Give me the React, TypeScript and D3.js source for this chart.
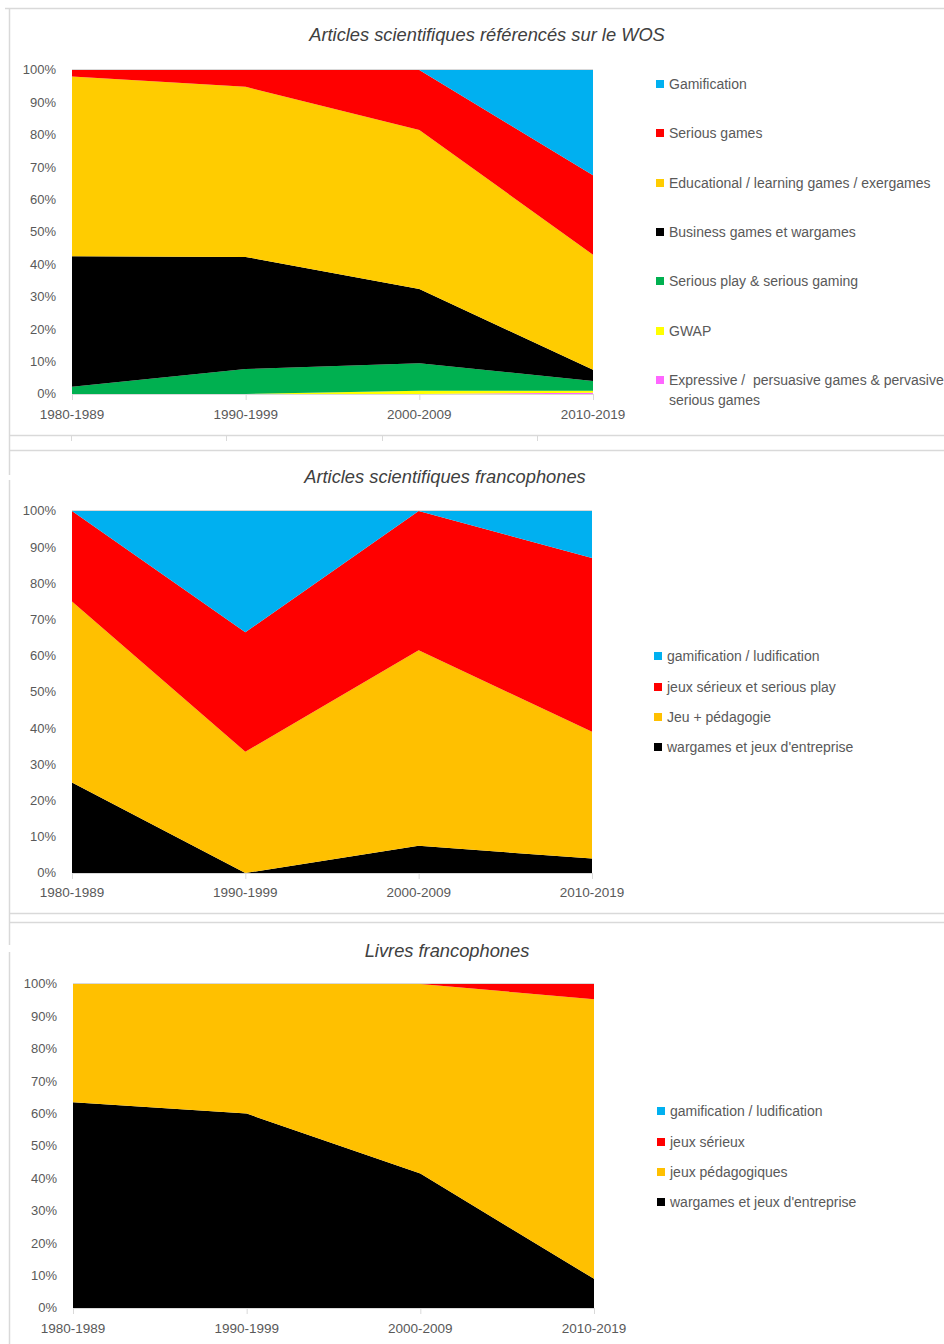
import React from 'react';
import * as d3 from 'd3';

// ---------- shared data ----------
const periods = ['1980-1989', '1990-1999', '2000-2009', '2010-2019'];
const yTickValues = [0, 10, 20, 30, 40, 50, 60, 70, 80, 90, 100];

// ---------- Chart 1 : WOS (values in %, stacked bottom -> top) ----------
const wosTitle = 'Articles scientifiques référencés sur le WOS';
const wosNames = [
  'Expressive /\u00A0 persuasive games & pervasive\nserious games',
  'GWAP',
  'Serious play & serious gaming',
  'Business games et wargames',
  'Educational / learning games / exergames',
  'Serious games',
  'Gamification',
];
const wosColors = ['#FF66FF', '#FFFF00', '#00B050', '#000000', '#FFCC00', '#FF0000', '#00B0F0'];
const wosExpressive = [0, 0, 0, 0.4];
const wosGwap = [0, 0, 1.0, 0.6];
const wosSeriousPlay = [2.2, 7.7, 8.5, 3.0];
const wosBusiness = [40.3, 34.6, 22.9, 3.5];
const wosEducational = [55.5, 52.5, 49.1, 35.5];
const wosSeriousGames = [2.0, 5.2, 18.5, 24.5];
const wosGamification = [0, 0, 0, 32.5];

// ---------- Chart 2 : articles francophones ----------
const artTitle = 'Articles scientifiques francophones';
const artNames = ["wargames et jeux d'entreprise", 'Jeu + pédagogie', 'jeux sérieux et serious play', 'gamification / ludification'];
const artColors = ['#000000', '#FFC000', '#FF0000', '#00B0F0'];
const artWargames = [25, 0, 7.5, 4];
const artPedagogie = [50, 33.5, 54, 35];
const artSerieux = [25, 33, 38.5, 48];
const artGamification = [0, 33.5, 0, 13];

// ---------- Chart 3 : livres francophones ----------
const livTitle = 'Livres francophones';
const livNames = ["wargames et jeux d'entreprise", 'jeux pédagogiques', 'jeux sérieux', 'gamification / ludification'];
const livColors = ['#000000', '#FFC000', '#FF0000', '#00B0F0'];
const livWargames = [63.5, 60, 41.5, 9];
const livPedagogiques = [36.5, 40, 58.5, 86.3];
const livSerieux = [0, 0, 0, 4.7];
const livGamification = [0, 0, 0, 0];

const FONT = '"Liberation Sans", Arial, sans-serif';
const TXT = '#595959';
const GRID = '#D9D9D9';

type Layout = {
  x0: number; x1: number; yTop: number; yBot: number;
  titleX: number; titleY: number;
  yLabelX: number; xLabelY: number;
  legSqX: number; legTxtX: number; legYs: number[];
};

function StackedArea(props: {
  title: string; names: string[]; colors: string[]; series: number[][]; L: Layout;
}) {
  const { title, names, colors, series, L } = props;
  const keys = names.map((_, i) => 'k' + i);
  const rows = periods.map((p, j) => {
    const r: any = { period: p };
    series.forEach((s, i) => { r[keys[i]] = s[j]; });
    return r;
  });
  const stacked = d3.stack<any>().keys(keys)(rows);
  const x = d3.scalePoint<string>().domain(periods).range([L.x0, L.x1]);
  const y = d3.scaleLinear().domain([0, 100]).range([L.yBot, L.yTop]);
  const area = d3.area<any>()
    .x((d: any) => x(d.data.period) as number)
    .y0((d: any) => y(Math.min(100, d[0])))
    .y1((d: any) => y(Math.min(100, d[1])));

  return (
    <g>
      <text x={L.titleX} y={L.titleY} textAnchor="middle" fontStyle="italic" fontSize={18.3}
        fill="#404040" fontFamily={FONT}>{title}</text>
      {stacked.map((s, i) => (
        <path key={i} d={area(s as any) || ''} fill={colors[i]} stroke="none" />
      ))}
      <line x1={L.x0} x2={L.x1} y1={L.yTop - 0.5} y2={L.yTop - 0.5} stroke={GRID} strokeWidth={1} />
      <line x1={L.x0} x2={L.x1} y1={L.yBot + 0.5} y2={L.yBot + 0.5} stroke={GRID} strokeWidth={1} />
      {periods.map((p) => (
        <g key={p}>
          <line x1={(x(p) as number) + 0.5} x2={(x(p) as number) + 0.5} y1={L.yBot} y2={L.yBot + 6} stroke={GRID} />
          <text x={x(p) as number} y={L.xLabelY} textAnchor="middle" dominantBaseline="middle"
            fontSize={13.5} fill={TXT} fontFamily={FONT}>{p}</text>
        </g>
      ))}
      {yTickValues.map((t) => (
        <text key={t} x={L.yLabelX} y={y(t) + 1} textAnchor="end" dominantBaseline="middle"
          fontSize={13} fill={TXT} fontFamily={FONT}>{t + '%'}</text>
      ))}
      {names.map((n, i) => {
        const idx = names.length - 1 - i;
        const ly = L.legYs[i];
        const lines = names[idx].split('\n');
        return (
          <g key={n}>
            <rect x={L.legSqX} y={ly - 4} width={8} height={8} fill={colors[idx]} />
            <text x={L.legTxtX} y={ly + 1} dominantBaseline="middle" fontSize={14} fill={TXT} fontFamily={FONT}>
              {lines.map((ln, k) => (
                <tspan key={k} x={L.legTxtX} dy={k === 0 ? 0 : 20}>{ln}</tspan>
              ))}
            </text>
          </g>
        );
      })}
    </g>
  );
}

export default function App() {
  const wosSeries = [wosExpressive, wosGwap, wosSeriousPlay, wosBusiness, wosEducational, wosSeriousGames, wosGamification];
  const artSeries = [artWargames, artPedagogie, artSerieux, artGamification];
  const livSeries = [livWargames, livPedagogiques, livSerieux, livGamification];

  const L1: Layout = {
    x0: 72, x1: 593, yTop: 70, yBot: 394, titleX: 487, titleY: 41,
    yLabelX: 56, xLabelY: 415, legSqX: 656, legTxtX: 669,
    legYs: [84, 133, 183, 232, 281, 331, 380],
  };
  const L2: Layout = {
    x0: 72, x1: 592, yTop: 511, yBot: 873, titleX: 445, titleY: 483,
    yLabelX: 56, xLabelY: 893, legSqX: 654, legTxtX: 667,
    legYs: [656, 687, 717, 747],
  };
  const L3: Layout = {
    x0: 73, x1: 594, yTop: 984, yBot: 1308, titleX: 447, titleY: 957,
    yLabelX: 57, xLabelY: 1329, legSqX: 657, legTxtX: 670,
    legYs: [1111, 1142, 1172, 1202],
  };

  return (
    <svg width={944} height={1344} style={{ position: 'absolute', left: 0, top: 0, background: '#fff' }}>
      <rect x={0} y={0} width={944} height={1344} fill="#fff" />
      {/* panel frames */}
      <line x1={5} x2={944} y1={8.5} y2={8.5} stroke={GRID} strokeWidth={1.5} />
      <line x1={9.5} x2={9.5} y1={8} y2={475} stroke={GRID} strokeWidth={1.5} />
      <line x1={9.5} x2={9.5} y1={480} y2={945} stroke={GRID} strokeWidth={1.5} />
      <line x1={9.5} x2={9.5} y1={952} y2={1344} stroke={GRID} strokeWidth={1.5} />
      <line x1={10} x2={944} y1={435.5} y2={435.5} stroke={GRID} strokeWidth={1.5} />
      <line x1={10} x2={944} y1={450.5} y2={450.5} stroke={GRID} strokeWidth={1.5} />
      <line x1={10} x2={944} y1={913.5} y2={913.5} stroke={GRID} strokeWidth={1.5} />
      <line x1={10} x2={944} y1={922.5} y2={922.5} stroke={GRID} strokeWidth={1.5} />
      {/* remnants of a chart underneath */}
      {[71, 226, 382, 537].map((tx) => (
        <line key={tx} x1={tx + 0.5} x2={tx + 0.5} y1={436} y2={441} stroke={GRID} />
      ))}
      <StackedArea title={wosTitle} names={wosNames} colors={wosColors} series={wosSeries} L={L1} />
      <StackedArea title={artTitle} names={artNames} colors={artColors} series={artSeries} L={L2} />
      <StackedArea title={livTitle} names={livNames} colors={livColors} series={livSeries} L={L3} />
    </svg>
  );
}
